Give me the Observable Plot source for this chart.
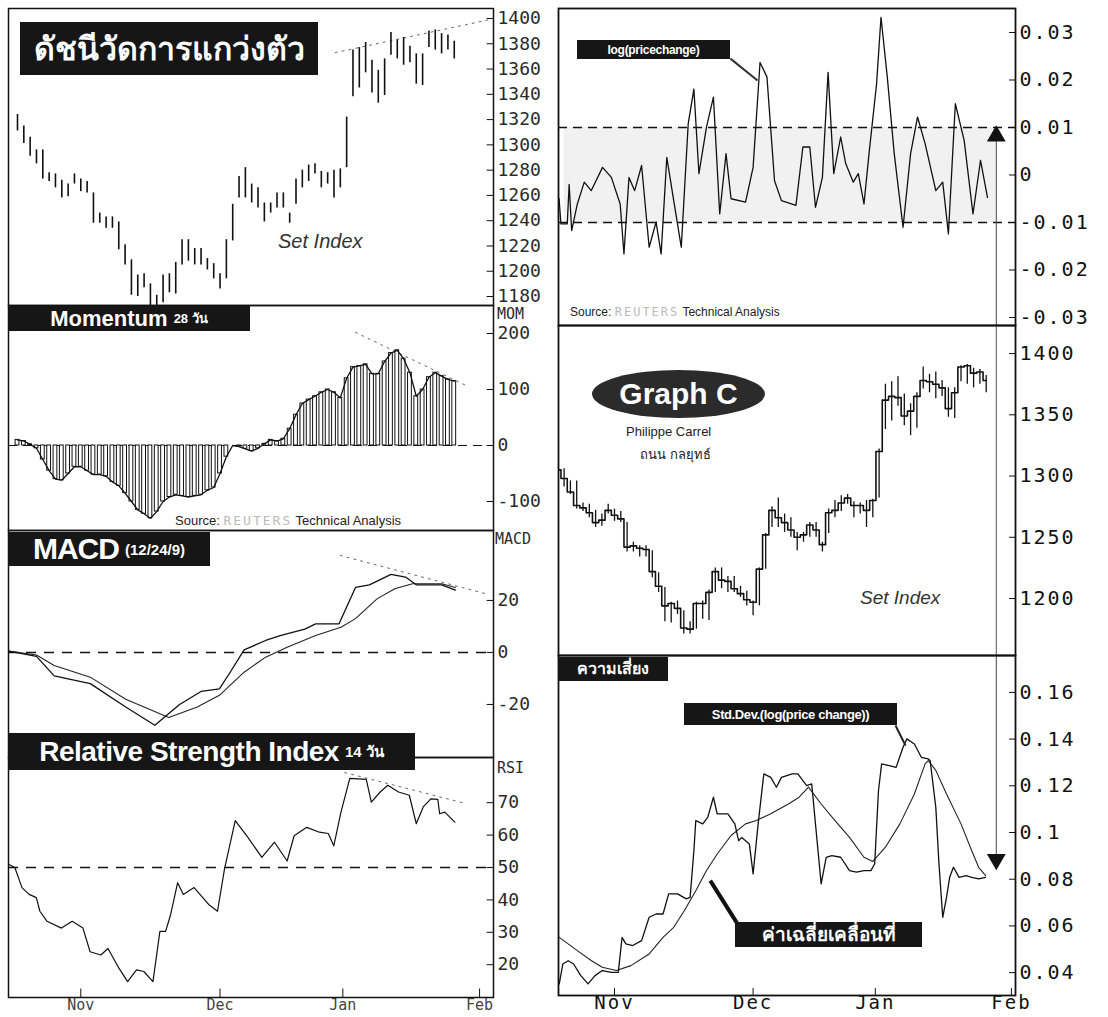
<!DOCTYPE html>
<html><head><meta charset="utf-8">
<script src="https://cdn.jsdelivr.net/npm/d3@7"></script>
<script src="https://cdn.jsdelivr.net/npm/@observablehq/plot@0.6"></script>
<style>
body{margin:0;background:#fff;}
#root{position:relative;width:1108px;height:1017px;overflow:hidden;background:#fff;font-family:"Liberation Sans",Arial,sans-serif;}
.tag{position:absolute;background:#161616;color:#fff;font-weight:bold;white-space:nowrap;line-height:1;display:flex;align-items:center;justify-content:center;box-sizing:border-box;overflow:visible;}
.lbl{position:absolute;white-space:nowrap;line-height:1;}
</style></head><body><div id="root"></div>
<script>
// ---------------- DATA ----------------
// trading-day index 0..69 (mid-Oct .. end Jan)
const days = d3.range(70);
const monthTicks = [10, 32, 51.4, 73];
const monthLabels = ["Nov", "Dec", "Jan", "Feb"];

// SET index high / low / close per trading day
const high = [1324,1315,1306,1296,1296,1278,1277,1272,1269,1277,1273,1271,1262,1246,1243,1243,1239,1221,1209,1197,1198,1190,1181,1197,1198,1207,1225,1225,1218,1218,1210,1206,1198,1225,1253,1275,1282,1269,1266,1254,1254,1262,1262,1246,1273,1280,1284,1285,1279,1278,1280,1281,1322,1375,1377,1381,1367,1359,1368,1389,1383,1385,1378,1372,1372,1390,1391,1388,1387,1382];
const low  = [1311,1301,1291,1285,1273,1271,1266,1258,1259,1269,1263,1262,1238,1238,1234,1234,1217,1205,1181,1180,1187,1171,1171,1175,1183,1182,1205,1208,1205,1205,1201,1194,1186,1194,1224,1258,1258,1254,1250,1239,1246,1250,1250,1238,1253,1266,1271,1277,1266,1269,1258,1266,1282,1338,1345,1357,1341,1333,1339,1371,1368,1363,1365,1348,1347,1377,1375,1372,1375,1368];
const close = [1315,1305,1298,1287,1276,1274,1270,1262,1264,1272,1268,1265,1242,1243,1241,1240,1222,1210,1194,1196,1192,1176,1175,1196,1196,1205,1222,1215,1214,1208,1204,1199,1197,1224,1252,1272,1266,1262,1256,1250,1252,1260,1256,1244,1270,1272,1278,1282,1276,1276,1272,1280,1320,1362,1365,1364,1349,1353,1365,1378,1377,1375,1372,1355,1368,1389,1390,1384,1385,1378];

// Momentum 28 days
const momentum = [10,8,2,-5,-25,-45,-60,-62,-50,-38,-38,-45,-52,-52,-55,-65,-72,-85,-100,-115,-122,-130,-118,-100,-92,-88,-90,-92,-90,-88,-80,-75,-50,-20,0,-2,-6,-10,-5,3,10,8,12,30,55,75,82,88,95,100,95,85,120,140,142,145,128,128,150,165,170,155,130,88,100,122,130,124,118,115];

// MACD (12/24/9)
const macdX = [-1.4,3,5.8,11.5,17.1,21.7,25.6,29,31.9,33.5,35.8,39.2,41.5,45.4,47.1,50.8,53.4,55.6,59,61.3,63,67,69.2];
const macdY = [0.5,-1.5,-9,-12,-21,-28,-20,-15,-14,-8,1,4.6,6.5,9,11,11,25,26,30,29,26,26,24];
const signalX = [-1.4,3,5.8,11.5,17.1,23.9,28.4,31.9,35.8,39.2,42.6,47.1,51.1,53.4,56.8,59.6,62.4,67,69.2];
const signalY = [0.5,-1,-5,-9.5,-18,-25,-21,-16.5,-7.6,-1.8,2,6.5,9.7,13,20.6,24.5,26.4,26.4,25];

// RSI 14 days
const rsiX = [-1.42,-0.42,0.71,1.84,2.98,3.54,4.67,6.94,8.64,10.34,11.47,13.17,14.3,16.0,17.4,18.8,19.96,21.4,22.5,23.4,24.2,25.3,26.2,27.9,30.2,31.6,32.7,34.4,36.4,38.6,40.6,42.6,43.7,45.7,47.7,49.1,49.97,51.1,52.5,55.1,55.9,57.3,58.5,60.2,61.9,63,64.1,65.3,66.4,66.7,67.5,69.1];
const rsiY = [51,50,43.8,41.7,40.7,36.5,33.4,31.3,33.4,31.3,24,23,25,19,14.8,18.4,17.9,14.8,30.3,30.3,35.5,45.3,41.7,43.8,38.6,36.5,49.5,64.5,59.3,53.1,57.8,52,59.8,62.4,60.9,60.5,56.7,67.1,77.5,77.2,70.2,73.3,75.4,73.3,72.3,63.5,68.7,71.2,71,66.6,67.1,64];

// log(price change)
const logX = [1.2,1.5,2.5,2.8,3.2,4.1,5.2,6.3,8.1,9.5,10.9,11.5,12.3,13.2,14.3,15.5,16.6,17.4,18.3,19.4,20.6,21.7,22.6,23.4,24.6,25.7,26.7,27.7,28.5,30.8,32,33.1,34.2,35.4,36.5,38.8,39.9,41,41.9,43,43.9,44.8,45.9,46.7,47.9,48.7,49.6,50.4,51.6,52.3,53.3,54.4,55.8,57,58.1,59.3,61,62.1,63,64.1,65.5,66.9,68.1,69.2];
const logY = [-0.005,-0.0103,-0.0103,-0.002,-0.0117,-0.0061,-0.0015,-0.0033,0.0016,-0.0005,-0.0061,-0.0166,-0.0005,-0.0033,0.002,-0.0152,-0.0099,-0.0166,0.0037,-0.0054,-0.0152,0.0108,0.0181,0.0003,0.0101,0.0164,-0.0082,0.0045,-0.005,-0.0057,0.0016,0.0237,0.0206,-0.0012,-0.0054,-0.0064,0.0059,0.0059,-0.0068,-0.0005,0.0216,0.0003,0.008,0.0024,-0.0015,0.0003,-0.0061,0.0045,0.0192,0.0332,0.0206,0.0045,-0.011,0.0045,0.0122,0.0066,-0.0033,-0.0015,-0.0124,0.015,0.0073,-0.0082,0.0031,-0.0047];

// Std.Dev(log(price change)) and its moving average
const sdX = [1.23,1.8,2.65,3.5,4.65,5.8,6.9,8.06,9.5,10.6,11.2,11.8,12.9,14.3,15.5,16.6,17.7,18.6,20,21.4,22,22.6,22.9,24,24.8,25.7,26.3,28,29.1,29.7,30.2,31.4,32,32.8,33.7,34.8,35.7,36.5,38.2,39.1,40.5,41.3,42.2,42.8,43.6,44.5,45.9,47.3,48.4,49.6,50.7,51.3,51.9,52.4,53.6,54.7,55.8,56.4,57.6,58.7,59.8,60.1,61,61.5,62.1,62.7,63.2,63.8,64.7,65.8,66.7,67.8,68.9];
const sdY = [0.0352,0.0437,0.0451,0.0437,0.0387,0.0352,0.0387,0.0409,0.0401,0.0401,0.0551,0.0523,0.0516,0.0537,0.0637,0.0651,0.0651,0.0737,0.0737,0.0716,0.0722,0.0922,0.1051,0.1037,0.1065,0.1151,0.108,0.108,0.1037,0.0965,0.0979,0.0951,0.0823,0.1037,0.1251,0.1236,0.1194,0.1236,0.1251,0.1251,0.1201,0.1208,0.0951,0.078,0.0894,0.0901,0.0894,0.0837,0.083,0.0837,0.0837,0.0866,0.1179,0.1294,0.1286,0.1279,0.1365,0.1401,0.1379,0.1322,0.1315,0.1308,0.1108,0.0866,0.0637,0.0722,0.0808,0.0851,0.0808,0.0815,0.0808,0.0801,0.0808];
const maX = [1.23,4.1,6.35,8.06,10.3,12.6,15.5,17.7,19.4,21.1,22.9,24.6,26.3,28.5,30.8,32.5,34.8,37.6,39.3,40.8,42.8,45,47.3,49.6,51,53,55.3,57.6,59.3,59.8,61,62.7,65,66.7,67.8,68.9];
const maY = [0.0551,0.0494,0.0451,0.0423,0.0409,0.043,0.048,0.0551,0.0594,0.0666,0.0751,0.0837,0.0908,0.0987,0.1037,0.1051,0.108,0.1122,0.1151,0.1194,0.1122,0.1051,0.0979,0.0894,0.0876,0.0937,0.1037,0.1165,0.1294,0.1308,0.1266,0.1165,0.1037,0.0922,0.0851,0.0815];

// dotted trend lines
const trendSet = [[50.2, 1373], [74.5, 1399]];
const trendMom = [[53.4, 202], [70.9, 107]];
const trendMacd = [[51, 37.3], [73.8, 22.7]];
const trendRsi = [[51.7, 79.3], [70.3, 70]];

// tick values & labels
const setTicks = [1400,1380,1360,1340,1320,1300,1280,1260,1240,1220,1200,1180];
const setLabels = ["1400","1380","1360","1340","1320","1300","1280","1260","1240","1220","1200","1180"];
const momTicks = [200,100,0,-100];
const momLabels = ["200","100","0","-100"];
const macdTicks = [20,0,-20];
const macdLabels = ["20","0","-20"];
const rsiTicks = [70,60,50,40,30,20];
const rsiLabels = ["70","60","50","40","30","20"];
const logTicks = [0.03,0.02,0.01,0,-0.01,-0.02,-0.03];
const logLabels = ["0.03","0.02","0.01","0","-0.01","-0.02","-0.03"];
const graphTicks = [1400,1350,1300,1250,1200];
const graphLabels = ["1400","1350","1300","1250","1200"];
const sdTicks = [0.16,0.14,0.12,0.1,0.08,0.06,0.04];
const sdLabels = ["0.16","0.14","0.12","0.1","0.08","0.06","0.04"];

// ---------------- LAYOUT ----------------
const root = document.getElementById("root");
function addPlot(svg, left, top){svg.style.position="absolute";svg.style.left=left+"px";svg.style.top=top+"px";root.appendChild(svg);}
function addHTML(cls, html, left, top, css){const d=document.createElement("div");d.className=cls;d.innerHTML=html;d.style.left=left+"px";d.style.top=top+"px";Object.assign(d.style,css||{});root.appendChild(d);return d;}
const pairs = (xs, ys) => xs.map((x, k) => [x, ys[k]]);

const LX = [-1.42, 75.2];
const RX = [1.11, 73.65];
const leftStyle = {fontFamily:'"DejaVu Sans Mono", monospace', fontSize:"18px", color:"#2a2a2a", background:"transparent", overflow:"visible"};
const rightStyle = {fontFamily:'"DejaVu Sans Mono", monospace', fontSize:"20px", color:"#111", background:"transparent", overflow:"visible", letterSpacing:"2px"};
const lbl = (ticks, labels) => d => labels[ticks.indexOf(d)];
const dotted = {stroke:"#666", strokeWidth:1, strokeDasharray:"2,5"};

// P1: Set index high-low bars
addPlot(Plot.plot({
  width:550, height:305, marginTop:8, marginBottom:0, marginLeft:8, marginRight:57,
  x:{domain:LX, axis:null}, y:{domain:[1172.9,1407.9], axis:null}, style:leftStyle,
  marks:[
    Plot.line(trendSet, {x:d=>d[0], y:d=>d[1], ...dotted}),
    Plot.ruleX(days, {x:i=>i, y1:i=>low[i], y2:i=>high[i], stroke:"#111", strokeWidth:1.6, clip:true}),
    Plot.ruleY(setTicks, {y:d=>d, x1:()=>74.2, x2:()=>75.2, stroke:"#111"}),
    Plot.axisY(setTicks, {anchor:"right", tickSize:0, tickPadding:4, tickFormat:lbl(setTicks, setLabels)}),
    Plot.frame({stroke:"#111", strokeWidth:1.5})
  ]}), 0, 0);

// P2: Momentum
addPlot(Plot.plot({
  width:550, height:225, marginTop:0, marginBottom:0, marginLeft:8, marginRight:57,
  x:{domain:LX, axis:null}, y:{domain:[-151.8,250], axis:null}, style:leftStyle,
  marks:[
    Plot.ruleY([0], {y:d=>d, stroke:"#111", strokeDasharray:"9,6"}),
    Plot.line(trendMom, {x:d=>d[0], y:d=>d[1], ...dotted}),
    Plot.rect(days, {x1:i=>i-0.3, x2:i=>i+0.3, y1:()=>0, y2:i=>momentum[i], fill:"white", stroke:"#111", strokeWidth:1}),
    Plot.line(days, {x:i=>i, y:i=>momentum[i], stroke:"#111", strokeWidth:1.3}),
    Plot.ruleY(momTicks, {y:d=>d, x1:()=>74.2, x2:()=>75.2, stroke:"#111"}),
    Plot.axisY(momTicks, {anchor:"right", tickSize:0, tickPadding:4, tickFormat:lbl(momTicks, momLabels)}),
    Plot.frame({stroke:"#111", strokeWidth:1.5})
  ]}), 0, 305);

// P3: MACD
addPlot(Plot.plot({
  width:550, height:227, marginTop:0, marginBottom:0, marginLeft:8, marginRight:57,
  x:{domain:LX, axis:null}, y:{domain:[-40.4,46.9], axis:null}, style:leftStyle,
  marks:[
    Plot.ruleY([0], {y:d=>d, stroke:"#111", strokeWidth:1.4, strokeDasharray:"10,8"}),
    Plot.line(trendMacd, {x:d=>d[0], y:d=>d[1], ...dotted}),
    Plot.line(pairs(signalX, signalY), {x:d=>d[0], y:d=>d[1], stroke:"#222", strokeWidth:1.1}),
    Plot.line(pairs(macdX, macdY), {x:d=>d[0], y:d=>d[1], stroke:"#111", strokeWidth:1.3}),
    Plot.ruleY(macdTicks, {y:d=>d, x1:()=>74.2, x2:()=>75.2, stroke:"#111"}),
    Plot.axisY(macdTicks, {anchor:"right", tickSize:0, tickPadding:4, tickFormat:lbl(macdTicks, macdLabels)}),
    Plot.frame({stroke:"#111", strokeWidth:1.5})
  ]}), 0, 530);

// P4: RSI
addPlot(Plot.plot({
  width:550, height:260, marginTop:0, marginBottom:20, marginLeft:8, marginRight:57,
  x:{domain:LX, axis:null}, y:{domain:[9.88,83.95], axis:null}, style:{...leftStyle, fontSize:"15px", color:"#444"},
  marks:[
    Plot.ruleY([50], {y:d=>d, stroke:"#111", strokeWidth:1.4, strokeDasharray:"10,8"}),
    Plot.line(trendRsi, {x:d=>d[0], y:d=>d[1], ...dotted}),
    Plot.line(pairs(rsiX, rsiY), {x:d=>d[0], y:d=>d[1], stroke:"#111", strokeWidth:1.2}),
    Plot.ruleY(rsiTicks, {y:d=>d, x1:()=>74.2, x2:()=>75.2, stroke:"#111"}),
    Plot.axisY(rsiTicks, {anchor:"right", tickSize:0, tickPadding:4, fontSize:18, fill:"#2a2a2a", tickFormat:lbl(rsiTicks, rsiLabels)}),
    Plot.ruleX(monthTicks, {x:d=>d, y1:()=>9.88, y2:()=>12.5, stroke:"#111"}),
    Plot.axisX(monthTicks, {anchor:"bottom", tickSize:0, tickPadding:2, tickFormat:lbl(monthTicks, monthLabels)}),
    Plot.frame({stroke:"#111", strokeWidth:1.5})
  ]}), 0, 757);

// R1: log(price change)
addPlot(Plot.plot({
  width:558, height:325, marginTop:8, marginBottom:0, marginLeft:8, marginRight:93,
  x:{domain:RX, axis:null}, y:{domain:[-0.03168,0.03505], axis:null}, style:rightStyle,
  marks:[
    Plot.rect([0], {x1:()=>2, x2:()=>70.5, y1:()=>-0.01, y2:()=>0.01, fill:"#f1f1f1"}),
    Plot.ruleY([0.01,-0.01], {y:d=>d, stroke:"#111", strokeWidth:1.5, strokeDasharray:"9,6"}),
    Plot.line(pairs(logX, logY), {x:d=>d[0], y:d=>d[1], stroke:"#111", strokeWidth:1.3, clip:true}),
    Plot.link([[28.4,0.0245,32.7,0.0199]], {x1:d=>d[0], y1:d=>d[1], x2:d=>d[2], y2:d=>d[3], stroke:"#333", strokeWidth:2}),
    Plot.ruleX([70.6], {x:d=>d, y1:()=>-0.03168, y2:()=>0.008, stroke:"#444", strokeWidth:1}),
    Plot.dot([70.6], {x:d=>d, y:()=>0.0082, symbol:"triangle", r:7, fill:"#111", stroke:"none"}),
    Plot.ruleY(logTicks, {y:d=>d, x1:()=>72.7, x2:()=>73.65, stroke:"#111"}),
    Plot.axisY(logTicks, {anchor:"right", tickSize:0, tickPadding:4, tickFormat:lbl(logTicks, logLabels)}),
    Plot.frame({stroke:"#111", strokeWidth:1.8})
  ]}), 550, 0);

// R2: Graph C (Set Index step chart)
addPlot(Plot.plot({
  width:558, height:330, marginTop:0, marginBottom:0, marginLeft:8, marginRight:93,
  x:{domain:RX, axis:null}, y:{domain:[1153.5,1422.9], axis:null}, style:rightStyle,
  marks:[
    Plot.ruleX([70.6], {x:d=>d, stroke:"#555", strokeWidth:1}),
    Plot.ruleX(days, {x:i=>i, y1:i=>low[i], y2:i=>high[i], stroke:"#111", strokeWidth:1.3, clip:true}),
    Plot.line(days, {x:i=>i, y:i=>close[i], curve:"step", stroke:"#111", strokeWidth:1.6, clip:true}),
    Plot.ruleY(graphTicks, {y:d=>d, x1:()=>72.7, x2:()=>73.65, stroke:"#111"}),
    Plot.axisY(graphTicks, {anchor:"right", tickSize:0, tickPadding:4, tickFormat:lbl(graphTicks, graphLabels)}),
    Plot.frame({stroke:"#111", strokeWidth:1.8})
  ]}), 550, 325);

// R3: Std.Dev and moving average
addPlot(Plot.plot({
  width:558, height:362, marginTop:0, marginBottom:22, marginLeft:8, marginRight:93,
  x:{domain:RX, axis:null}, y:{domain:[0.0302,0.1758], axis:null}, style:{...rightStyle, fontSize:"19px"},
  marks:[
    Plot.ruleX([70.6], {x:d=>d, y1:()=>0.1758, y2:()=>0.09, stroke:"#444", strokeWidth:1}),
    Plot.dot([70.6], {x:d=>d, y:()=>0.0885, symbol:"triangle", rotate:180, r:7, fill:"#111", stroke:"none"}),
    Plot.line(pairs(maX, maY), {x:d=>d[0], y:d=>d[1], stroke:"#222", strokeWidth:1.1, clip:true}),
    Plot.line(pairs(sdX, sdY), {x:d=>d[0], y:d=>d[1], stroke:"#111", strokeWidth:1.3, clip:true}),
    Plot.link([[54.6,0.1458,56.2,0.1372]], {x1:d=>d[0], y1:d=>d[1], x2:d=>d[2], y2:d=>d[3], stroke:"#222", strokeWidth:2}),
    Plot.link([[25.2,0.0794,29.7,0.0601]], {x1:d=>d[0], y1:d=>d[1], x2:d=>d[2], y2:d=>d[3], stroke:"#111", strokeWidth:4}),
    Plot.ruleY(sdTicks, {y:d=>d, x1:()=>72.7, x2:()=>73.65, stroke:"#111"}),
    Plot.axisY(sdTicks, {anchor:"right", tickSize:0, tickPadding:4, fontSize:20, tickFormat:lbl(sdTicks, sdLabels)}),
    Plot.ruleX(monthTicks, {x:d=>d, y1:()=>0.0302, y2:()=>0.0332, stroke:"#111"}),
    Plot.axisX(monthTicks, {anchor:"bottom", tickSize:0, tickPadding:0, tickFormat:lbl(monthTicks, monthLabels)}),
    Plot.frame({stroke:"#111", strokeWidth:1.8})
  ]}), 550, 655);

// ---------------- TEXT OVERLAYS ----------------
addHTML("tag", "ดัชนีวัดการแกว่งตัว", 20, 22, {width:"298px", height:"53px", fontSize:"32px"});
addHTML("tag", '<span style="font-size:22px;font-weight:900">Momentum</span><span style="font-size:13px;margin-left:6px">28 วัน</span>', 8, 306, {width:"242px", height:"25px"});
addHTML("tag", '<span style="font-size:30px;font-weight:900;letter-spacing:-1px">MACD</span><span style="font-size:15px;margin-left:6px">(12/24/9)</span>', 8, 532, {width:"202px", height:"34px"});
addHTML("tag", '<span style="font-size:28px;font-weight:900;letter-spacing:-0.5px">Relative Strength Index</span><span style="font-size:15px;margin-left:6px">14 วัน</span>', 8, 733, {width:"407px", height:"37px"});
addHTML("tag", "log(pricechange)", 577, 40, {width:"153px", height:"19px", fontSize:"12px", letterSpacing:"-0.3px"});
addHTML("tag", "ความเสี่ยง", 558, 657, {width:"110px", height:"24px", fontSize:"16px"});
addHTML("tag", "Std.Dev.(log(price change))", 684, 703, {width:"213px", height:"22px", fontSize:"13px", letterSpacing:"-0.4px"});
addHTML("tag", "ค่าเฉลี่ยเคลื่อนที่", 735, 922, {width:"187px", height:"25px", fontSize:"19px"});
addHTML("tag", "Graph C", 592, 370, {width:"173px", height:"48px", fontSize:"30px", borderRadius:"50%", background:"#2b2b2b"});

addHTML("lbl", "Philippe Carrel", 626, 425, {fontSize:"13px", color:"#222"});
addHTML("lbl", "ถนน กลยุทธ์", 640, 448, {fontSize:"13px", color:"#222"});
addHTML("lbl", "Set Index", 278, 231, {fontSize:"20px", fontStyle:"italic", color:"#333"});
addHTML("lbl", "Set Index", 860, 588, {fontSize:"19px", fontStyle:"italic", color:"#333"});

const src = 'Source: <span style="color:#bbb;letter-spacing:2px;font-family:\'DejaVu Sans Mono\',monospace">REUTERS</span> Technical Analysis';
addHTML("lbl", src, 175, 514, {fontSize:"13px", color:"#222"});
addHTML("lbl", src, 570, 306, {fontSize:"12px", color:"#222"});

const axisName = {fontSize:"15px", color:"#2a2a2a", fontFamily:'"DejaVu Sans Mono", monospace'};
addHTML("lbl", "MOM", 497, 307, axisName);
addHTML("lbl", "MACD", 495, 532, axisName);
addHTML("lbl", "RSI", 497, 761, axisName);
</script></body></html>
